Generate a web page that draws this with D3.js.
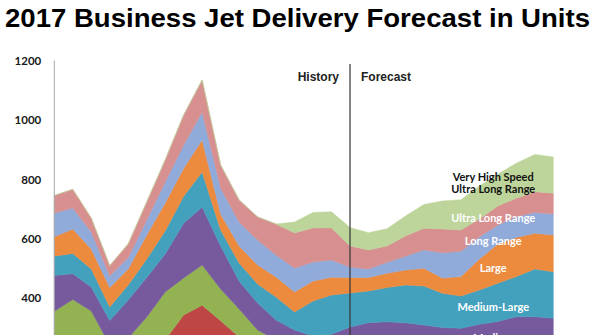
<!DOCTYPE html>
<html><head><meta charset="utf-8">
<script src="https://cdn.jsdelivr.net/npm/d3@7"></script>
<style>html,body{margin:0;padding:0;background:#fff;overflow:hidden}svg{display:block}</style>
</head><body>
<svg id="chart" width="595" height="335"></svg>
<script>
// ---- data (units delivered per year) ----
const years = [2000,2001,2002,2003,2004,2005,2006,2007,2008,2009,2010,2011,2012,2013,
               2014,2015,2016,2017,2018,2019,2020,2021,2022,2023,2024,2025,2026,2027];
const yTicks = [400,600,800,1000,1200];   // tick labels visible in the picture
const historyEnd = 2016;

const entry       = [0,0,0,0,0,0,15,60,120,90,70,50,45,50,45,45,50,50,50,52,52,52,52,55,55,58,58,58];
const light       = [250,270,240,180,190,230,245,284,257,234,200,159,155,85,80,80,85,90,92,90,88,85,85,88,90,93,93,92];
const lightMedium = [106,126,117,63,76,107,161,124,135,107,94,84,60,63,58,62,68,73,74,72,68,65,62,66,71,75,75,73];
const medium      = [121,87,81,82,128,133,128,185,195,145,94,91,67,95,90,92,100,105,105,104,102,100,100,104,106,112,112,110];
const mediumLarge = [65,68,61,46,51,62,78,91,118,54,61,64,77,61,118,132,115,107,115,127,131,115,109,115,129,135,161,156];
const large       = [65,82,67,65,54,81,94,94,108,54,57,64,68,67,67,60,52,45,48,50,60,51,65,104,132,132,120,124];
const longRange   = [80,71,57,39,38,51,71,78,94,87,81,84,74,81,64,58,35,29,37,47,62,85,85,75,64,70,70,71];
const ultraLong   = [59,63,47,35,46,60,74,101,108,78,74,78,104,118,115,108,71,64,55,68,73,80,72,60,64,62,70,70];
const vhsUlr      = [0,0,0,0,0,0,0,0,0,0,0,0,0,37,52,54,62,58,58,67,80,95,102,111,107,118,125,122];

const seriesKeys = ["Entry","Light","Light-Medium","Medium","Medium-Large","Large",
                    "Long Range","Ultra Long Range","Very High Speed Ultra Long Range"];
const seriesValues = [entry, light, lightMedium, medium, mediumLarge, large, longRange, ultraLong, vhsUlr];
const seriesColors = ["#4A7BB7","#BE4644","#93B353","#775A9E","#44A1BE","#EC8A3E","#90ABDA","#D78F8F","#BDD49A"];

// ---- layout ----
const svg = d3.select("#chart");
const x = d3.scaleLinear().domain([2000, 2027]).range([54.3, 553.3]);
const y = d3.scaleLinear().domain([0, 1200]).range([417.1, 60.7]);

const rows = years.map((yr, i) => {
  const r = {year: yr};
  seriesKeys.forEach((k, s) => r[k] = seriesValues[s][i]);
  return r;
});
const stacked = d3.stack().keys(seriesKeys)(rows);

const area = d3.area()
  .x(d => x(d.data.year))
  .y0(d => y(d[0]))
  .y1(d => y(d[1]));

svg.append("g").selectAll("path").data(stacked).join("path")
  .attr("d", area)
  .attr("fill", (d, i) => seriesColors[i])
  .attr("stroke", (d, i) => seriesColors[i])
  .attr("stroke-width", 0.5);

// y axis (line runs on past the bottom edge of the picture)
const yAxis = svg.append("g")
  .attr("transform", `translate(${x(2000)},0)`)
  .call(d3.axisLeft(y).tickValues(yTicks).tickSize(0).tickSizeOuter(0).tickPadding(13).tickFormat(d3.format("d")));
yAxis.select(".domain").attr("d", `M0,${y(1200)}V${y(0)}`).attr("stroke", "#a6a6a6").attr("stroke-width", 1);
yAxis.selectAll("text")
  .attr("font-family", "Lato, 'Liberation Sans', sans-serif")
  .attr("font-weight", "bold")
  .attr("font-size", "11.5px")
  .attr("fill", "#1a1a1a");

// history / forecast divider
svg.append("line")
  .attr("x1", x(historyEnd)).attr("x2", x(historyEnd))
  .attr("y1", 64).attr("y2", y(0))
  .attr("stroke", "#333").attr("stroke-width", 1.2);

svg.append("text").text("History")
  .attr("x", x(historyEnd) - 11).attr("y", 80.7)
  .attr("text-anchor", "end")
  .attr("font-family", "'Liberation Sans', Arial, sans-serif")
  .attr("font-weight", "bold").attr("font-size", "12px").attr("fill", "#222");
svg.append("text").text("Forecast")
  .attr("x", x(historyEnd) + 11).attr("y", 80.7)
  .attr("font-family", "'Liberation Sans', Arial, sans-serif")
  .attr("font-weight", "bold").attr("font-size", "12px").attr("fill", "#222");

// title
svg.append("text").text("2017 Business Jet Delivery Forecast in Units")
  .attr("x", 5).attr("y", 27.3)
  .attr("textLength", 585).attr("lengthAdjust", "spacingAndGlyphs")
  .attr("font-family", "'Liberation Sans', Arial, sans-serif")
  .attr("font-weight", "bold").attr("font-size", "25.5px").attr("fill", "#000");

// in-chart series labels
const labelYear = 2023.75;
const labelSpecs = [
  {key: "Very High Speed Ultra Long Range", lines: ["Very High Speed", "Ultra Long Range"], color: "#111", dy: -10},
  {key: "Ultra Long Range", lines: ["Ultra Long Range"], color: "#fff", dy: 0},
  {key: "Long Range", lines: ["Long Range"], color: "#fff", dy: 3},
  {key: "Large", lines: ["Large"], color: "#fff", dy: 1.5},
  {key: "Medium-Large", lines: ["Medium-Large"], color: "#fff", dy: 3.5},
  {key: "Medium", lines: ["Medium"], color: "#fff", dy: 0}
];
function bandMid(layer, yr) {
  const t = yr - years[0], i = Math.floor(t), f = t - i;
  const a = layer[i], b = layer[i + 1];
  const lo = a[0] + (b[0] - a[0]) * f, hi = a[1] + (b[1] - a[1]) * f;
  return (y(lo) + y(hi)) / 2;
}
const lineGap = 12.5;
labelSpecs.forEach(spec => {
  const layer = stacked[seriesKeys.indexOf(spec.key)];
  const cy = bandMid(layer, labelYear) + spec.dy;
  const t = svg.append("text")
    .attr("text-anchor", "middle")
    .attr("font-family", "Lato, 'Open Sans', sans-serif")
    .attr("font-weight", "bold").attr("font-size", "11px")
    .attr("fill", spec.color);
  spec.lines.forEach((ln, j) => {
    t.append("tspan").text(ln)
      .attr("x", x(labelYear))
      .attr("y", cy + (j - (spec.lines.length - 1) / 2) * lineGap)
      .attr("dy", "0.35em");
  });
});
</script>
</body></html>
